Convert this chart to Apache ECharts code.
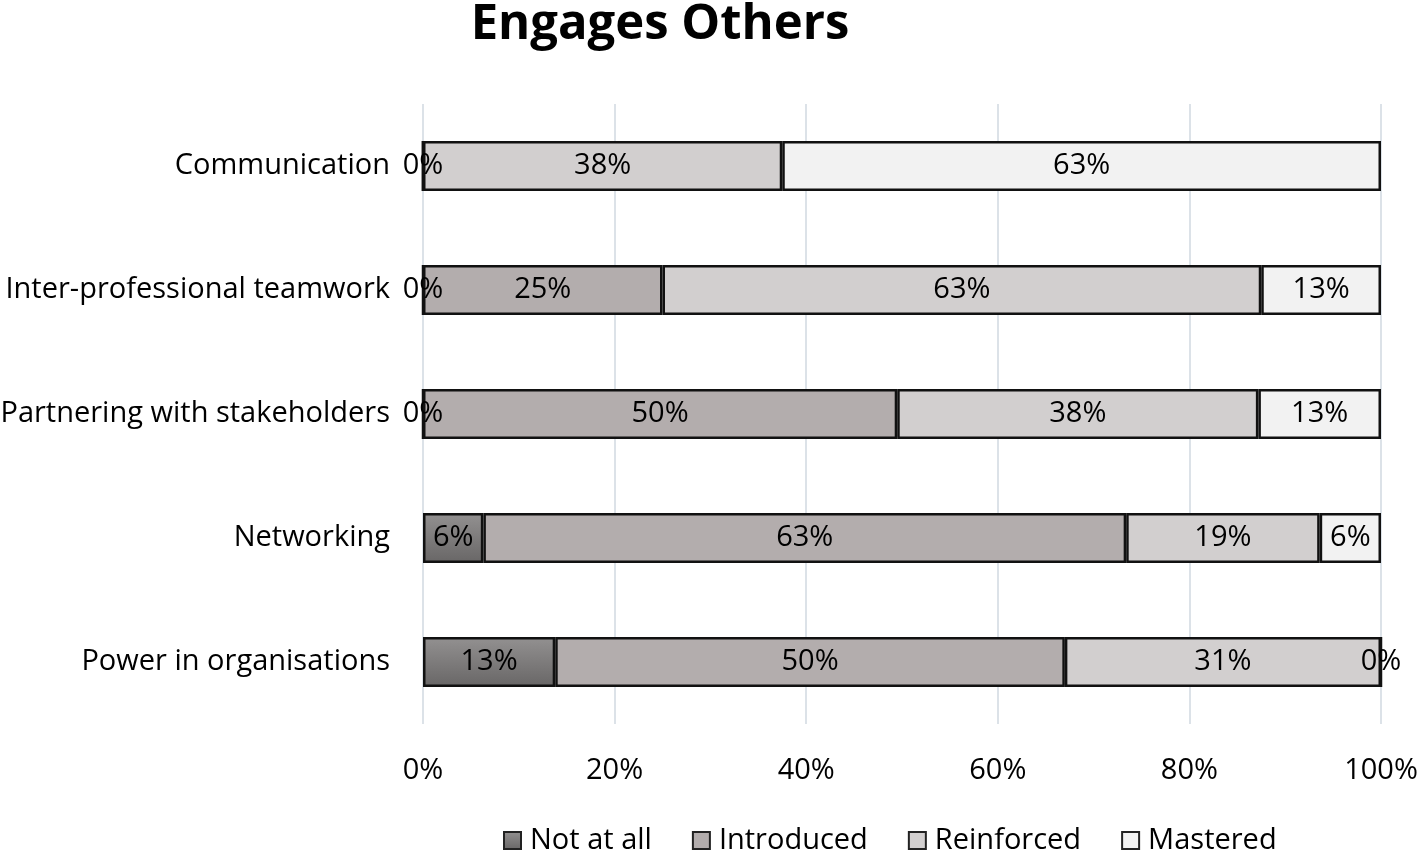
<!DOCTYPE html>
<html>
<head>
<meta charset="utf-8">
<title>Engages Others</title>
<script src="https://cdn.jsdelivr.net/npm/echarts@6/dist/echarts.min.js"></script>
<style>
  html, body { margin: 0; padding: 0; background: #fff; }
  #chart { width: 1418px; height: 852px; }
</style>
</head>
<body>
<div id="chart"></div>
<script>
// categories, top to bottom
const categories = [
  'Communication',
  'Inter-professional teamwork',
  'Partnering with stakeholders',
  'Networking',
  'Power in organisations',
];
const seriesNames = ['Not at all', 'Introduced', 'Reinforced', 'Mastered'];

// segment widths (share of respondents, %)
const notAtAll = [0, 0, 0, 6.3, 13.8];
const introduced = [0, 25, 49.5, 67.1, 53.2];
const reinforced = [37.5, 62.5, 37.7, 20.2, 33];
const mastered = [62.5, 12.5, 12.8, 6.4, 0];

// data labels as printed on the chart
const notAtAllLabels = ['0%', '0%', '0%', '6%', '13%'];
const introducedLabels = ['', '25%', '50%', '63%', '50%'];
const reinforcedLabels = ['38%', '63%', '38%', '19%', '31%'];
const masteredLabels = ['63%', '13%', '13%', '6%', '0%'];

const xTicks = [0, 20, 40, 60, 80, 100];

const fontFamily = 'Open Sans';
const fontSize = 29;

const chart = echarts.init(document.getElementById('chart'));

const makeSeries = (name, values, labels, color) => ({
  name,
  type: 'bar',
  stack: 'total',
  barWidth: 50,
  data: values,
  itemStyle: {
    color,
    borderColor: '#111',
    borderWidth: 2.5,
  },
  label: {
    show: true,
    position: 'inside',
    color: '#000',
    fontSize,
    fontFamily,
    formatter: (p) => labels[p.dataIndex],
  },
  emphasis: { disabled: true },
});

// "Not at all" has a little shading top to bottom
const darkFill = new echarts.graphic.LinearGradient(0, 0, 0, 1, [
  { offset: 0, color: '#939191' },
  { offset: 1, color: '#686666' },
]);

chart.setOption({
  animation: false,
  title: {
    text: 'Engages Others',
    left: 655,
    top: -4,
    textAlign: 'center',
    textStyle: {
      fontFamily,
      fontWeight: 'bold',
      fontSize: 49,
      color: '#000',
    },
  },
  legend: {
    top: 826,
    left: 503,
    padding: 0,
    itemGap: 40,
    itemWidth: 17,
    itemHeight: 17,
    icon: 'rect',
    data: seriesNames,
    textStyle: {
      fontFamily,
      fontSize,
      color: '#000',
      padding: [0, 0, 0, 4],
    },
    itemStyle: { borderColor: '#222', borderWidth: 2 },
  },
  grid: {
    left: 423,
    right: 37,
    top: 104,
    bottom: 128,
    containLabel: false,
    outerBoundsMode: 'none', // keep the plot where it is, labels may spill
  },
  xAxis: {
    type: 'value',
    min: 0,
    max: 100,
    interval: 20,
    axisLine: { show: false },
    axisTick: { show: false },
    splitLine: {
      show: true,
      lineStyle: { color: '#dce2e8', width: 2 },
    },
    axisLabel: {
      margin: 32,
      fontFamily,
      fontSize,
      color: '#000',
      formatter: (v) => (xTicks.includes(v) ? v + '%' : ''),
    },
  },
  yAxis: {
    type: 'category',
    inverse: true,
    data: categories,
    axisLine: { show: false },
    axisTick: { show: false },
    axisLabel: {
      margin: 33,
      fontFamily,
      fontSize,
      color: '#000',
    },
  },
  series: [
    makeSeries('Not at all', notAtAll, notAtAllLabels, darkFill),
    makeSeries('Introduced', introduced, introducedLabels, '#b3adad'),
    makeSeries('Reinforced', reinforced, reinforcedLabels, '#d2cfcf'),
    makeSeries('Mastered', mastered, masteredLabels, '#f2f2f2'),
  ],
});
</script>
</body>
</html>
